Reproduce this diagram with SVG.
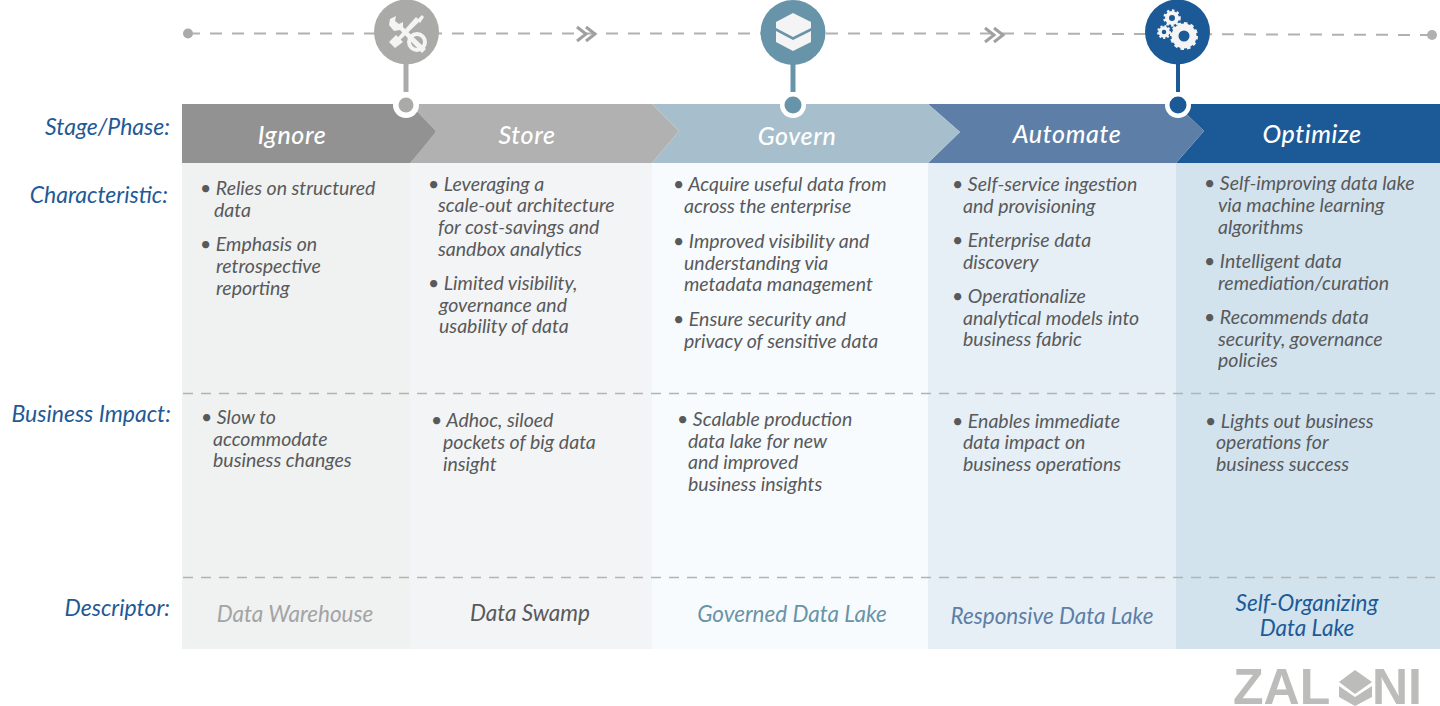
<svg xmlns="http://www.w3.org/2000/svg" width="1440" height="706" viewBox="0 0 1440 706">
<style>
text{font-family:"Lato","Open Sans","Liberation Sans",sans-serif;font-style:italic}
.b{font-size:19.5px;fill:#58595b}
.h{font-size:25px;fill:#fff;text-anchor:middle;font-weight:500;letter-spacing:.6px}
.l{font-size:23px;fill:#1f5a96;text-anchor:end}
.d{font-size:22.5px;text-anchor:middle}
.dash{stroke:#b1b1b0;stroke-width:2;stroke-dasharray:12 10;fill:none}
.sep{stroke:#b3b3b0;stroke-width:1.3;stroke-dasharray:10 8;fill:none}
.chev{fill:none;stroke:#a0a0a0;stroke-width:3}
.ic{fill:#f4f4f4}
.logo{font-family:"Liberation Sans",sans-serif;font-style:normal;font-weight:700;font-size:50px;fill:#bcbcbb}
</style>
<rect width="1440" height="706" fill="#fff"/>
<g id="connectors">
<path class="dash" d="M188 33.500H1000L1432 35"/>
<circle cx="188" cy="33.500" r="5" fill="#aaa"/>
<circle cx="1432" cy="35" r="5" fill="#b0b0b0"/>
<path class="chev" d="M577 27l9 7-9 7M586 27l9 7-9 7"/>
<path class="chev" d="M985 28l9 7-9 7M994 28l9 7-9 7"/>
</g>
<g id="ignore">
<rect x="182" y="163" width="228" height="486" fill="#f0f1f1"/>
<path d="M182 104H410L436 134L410 163H182Z" fill="#929292"/>
</g>
<g id="store">
<rect x="410" y="163" width="242" height="486" fill="#f3f4f5"/>
</g>
<g id="govern">
<rect x="652" y="163" width="276" height="486" fill="#f7fbfd"/>
</g>
<g id="automate">
<rect x="928" y="163" width="248" height="486" fill="#e6eff6"/>
</g>
<g id="optimize">
<rect x="1176" y="163" width="264" height="486" fill="#d2e3ee"/>
</g>
<g id="headers">
<path d="M1176 104H1440V163H1176L1204 131L1176 104Z" fill="#1c5a97"/>
<path d="M928 104H1176L1204 131L1176 163H928L960 132Z" fill="#5d7ea6"/>
<path d="M652 104H928L960 132L928 163H652L679 131Z" fill="#a7bfcc"/>
<path d="M410 104H652L679 131L652 163H410L436 131Z" fill="#b0b1b0"/>
<path d="M182 104H410L436 131L410 163H182Z" fill="#929292"/>
<text class="h" x="292" y="144">Ignore</text>
<text class="h" x="527" y="144">Store</text>
<text class="h" x="797" y="145">Govern</text>
<text class="h" x="1067" y="143">Automate</text>
<text class="h" x="1312" y="143">Optimize</text>
</g>
<g id="labels">
<text class="l" x="170" y="135">Stage/Phase:</text>
<text class="l" x="168" y="203">Characteristic:</text>
<text class="l" x="171" y="422">Business Impact:</text>
<text class="l" x="170" y="616">Descriptor:</text>
</g>
<g id="sep">
<path class="sep" d="M183 393.500H1440M183 577.500H1440"/>
</g>
<g id="stage-ignore-icon">
<path d="M406 60V92" stroke="#aaabaa" stroke-width="5"/>
<circle cx="406.500" cy="32" r="32.500" fill="#aaaba9"/>
<path d="M390 19l6 -3 -1 5 4 3 4-2 0 5 23 22-4 4-22-23-6 1-5-6z" class="ic"/>
<circle cx="417" cy="42" r="8" fill="none" stroke="#f4f4f4" stroke-width="4"/>
<path d="M392 44l24-27 4 4-26 25z" class="ic"/><path d="M389 42l7-7 7 7-8 6z" class="ic"/><path d="M417 20l5-5 2 2-4 6z" class="ic"/>
<circle cx="406" cy="105" r="13" fill="#fff"/><circle cx="406" cy="105" r="7.500" fill="#aaaba9"/>
</g>
<g id="stage-govern-icon">
<path d="M793 60V92" stroke="#6894aa" stroke-width="5"/>
<circle cx="793" cy="32.500" r="32.500" fill="#6894aa"/>
<path d="M776 22L793 13L811 22V28L793 37L776 28Z" class="ic"/><path d="M776 31L793 40L811 31V42L793 51L776 42Z" class="ic"/>
<circle cx="793" cy="105" r="13" fill="#fff"/><circle cx="793" cy="105" r="8.500" fill="#6894aa"/>
</g>
<g id="stage-optimize-icon">
<path d="M1178 60V92" stroke="#1c5a97" stroke-width="4"/>
<circle cx="1177.500" cy="32" r="32.500" fill="#1c5a97"/>
<circle cx="1184" cy="36" r="9" fill="none" stroke="#f4f4f4" stroke-width="7"/><circle cx="1184" cy="36" r="12.500" fill="none" stroke="#f4f4f4" stroke-width="3" stroke-dasharray="3.500 3"/>
<circle cx="1172" cy="18" r="5" fill="none" stroke="#f4f4f4" stroke-width="4"/><circle cx="1172" cy="18" r="7.500" fill="none" stroke="#f4f4f4" stroke-width="2.500" stroke-dasharray="2.500 2.500"/>
<circle cx="1164" cy="32" r="4" fill="none" stroke="#f4f4f4" stroke-width="3.500"/><circle cx="1164" cy="32" r="6" fill="none" stroke="#f4f4f4" stroke-width="2" stroke-dasharray="2 2"/>
<circle cx="1178" cy="105" r="13" fill="#fff"/><circle cx="1178" cy="105" r="8.500" fill="#1c5a97"/>
</g>
<g id="text-ignore" class="b">
<text class="b" x="200" y="195">• Relies on structured</text>
<text class="b" x="214" y="217">data</text>
<text class="b" x="200" y="251">• Emphasis on</text>
<text class="b" x="216" y="273">retrospective</text>
<text class="b" x="216" y="295">reporting</text>
<text class="b" x="201" y="424">• Slow to</text>
<text class="b" x="213" y="446">accommodate</text>
<text class="b" x="213" y="467">business changes</text>
</g>
<g id="text-store">
<text class="b" x="428" y="191">• Leveraging a</text>
<text class="b" x="438" y="212">scale-out architecture</text>
<text class="b" x="438" y="234">for cost-savings and</text>
<text class="b" x="438" y="256">sandbox analytics</text>
<text class="b" x="428" y="290">• Limited visibility,</text>
<text class="b" x="439" y="312">governance and</text>
<text class="b" x="439" y="333">usability of data</text>
<text class="b" x="431" y="427">• Adhoc, siloed</text>
<text class="b" x="443" y="449">pockets of big data</text>
<text class="b" x="443" y="471">insight</text>
</g>
<g id="text-govern">
<text class="b" x="673" y="191">• Acquire useful data from</text>
<text class="b" x="684" y="213">across the enterprise</text>
<text class="b" x="673" y="248">• Improved visibility and</text>
<text class="b" x="684" y="270">understanding via</text>
<text class="b" x="684" y="291">metadata management</text>
<text class="b" x="673" y="326">• Ensure security and</text>
<text class="b" x="684" y="348">privacy of sensitive data</text>
<text class="b" x="677" y="426">• Scalable production</text>
<text class="b" x="688" y="448">data lake for new</text>
<text class="b" x="688" y="469">and improved</text>
<text class="b" x="688" y="491">business insights</text>
</g>
<g id="text-automate">
<text class="b" x="952" y="191">• Self-service ingestion</text>
<text class="b" x="963" y="213">and provisioning</text>
<text class="b" x="952" y="247">• Enterprise data</text>
<text class="b" x="963" y="269">discovery</text>
<text class="b" x="952" y="303">• Operationalize</text>
<text class="b" x="963" y="325">analytical models into</text>
<text class="b" x="963" y="346">business fabric</text>
<text class="b" x="952" y="428">• Enables immediate</text>
<text class="b" x="963" y="449">data impact on</text>
<text class="b" x="963" y="471">business operations</text>
</g>
<g id="text-optimize">
<text class="b" x="1204" y="190">• Self-improving data lake</text>
<text class="b" x="1218" y="212">via machine learning</text>
<text class="b" x="1218" y="234">algorithms</text>
<text class="b" x="1204" y="268">• Intelligent data</text>
<text class="b" x="1218" y="290">remediation/curation</text>
<text class="b" x="1204" y="324">• Recommends data</text>
<text class="b" x="1218" y="346">security, governance</text>
<text class="b" x="1218" y="367">policies</text>
<text class="b" x="1205" y="428">• Lights out business</text>
<text class="b" x="1216" y="449">operations for</text>
<text class="b" x="1216" y="471">business success</text>
</g>
<g id="descriptors">
<text class="d" x="295" y="622" fill="#a3a4a4">Data Warehouse</text>
<text class="d" x="530" y="621" fill="#58595b">Data Swamp</text>
<text class="d" x="792" y="622" fill="#6894aa">Governed Data Lake</text>
<text class="d" x="1052" y="624" fill="#5d7ea6">Responsive Data Lake</text>
<text class="d" x="1307" y="611" fill="#1c5a97">Self-Organizing</text>
<text class="d" x="1307" y="636" fill="#1c5a97">Data Lake</text>
</g>
<g id="logo">
<text class="logo" x="1233" y="704">ZAL</text>
<path d="M1339 682L1355 670L1372 682L1355 694ZM1339 686L1355 697L1372 686V697L1355 706L1339 697Z" fill="#bcbcbb"/>
<text class="logo" x="1372" y="704">NI</text>
</g>
</svg>
